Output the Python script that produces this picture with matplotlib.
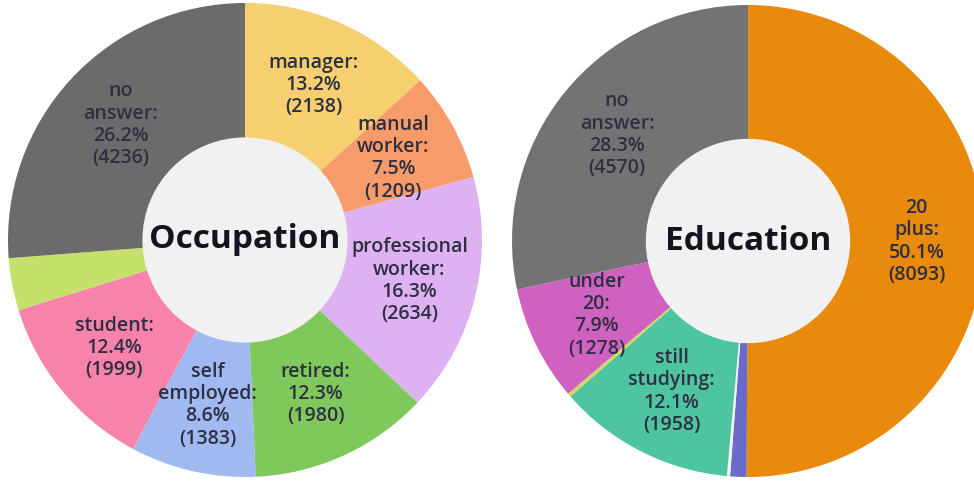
import numpy as np
import matplotlib
matplotlib.use("Agg")
import matplotlib.pyplot as plt

plt.rcParams["font.family"] = ["Open Sans", "DejaVu Sans"]

# occupation counts, clockwise from 12 o'clock
occ_labels = ["manager", "manual\nworker", "professional\nworker", "retired",
              "self\nemployed", "student", "", "no\nanswer"]
occ_counts = [2138, 1209, 2634, 1980, 1383, 1999, 575, 4236]
occ_colors = ["#F6CF70", "#F89B6B", "#DDB1F2", "#7FC95C", "#A1B9F1",
              "#F783AA", "#C6E06C", "#6B6B6B"]

# education counts, clockwise from 12 o'clock
edu_labels = ["20\nplus", "", "", "still\nstudying", "", "under\n20", "no\nanswer"]
edu_counts = [8093, 180, 35, 1958, 40, 1278, 4570]
edu_colors = ["#E98A0C", "#6A6AC9", "#F4F4F4", "#4FC4A1", "#D2D85C",
              "#CF62C0", "#737373"]

W, H = 974, 482
fig = plt.figure(figsize=(W / 100, H / 100), dpi=100)
fig.patch.set_facecolor("white")


def donut(cx, cy, r, labels, counts, colors, title):
    ax = fig.add_axes([(cx - r) / W, (H - cy - r) / H, 2 * r / W, 2 * r / H])
    hole = 0.43
    wedges, _ = ax.pie(counts, colors=colors, startangle=90, counterclock=False,
                       radius=1, wedgeprops=dict(width=1 - hole, linewidth=0))
    ax.set_xlim(-1, 1)
    ax.set_ylim(-1, 1)
    ax.axis("off")
    ax.add_patch(plt.Circle((0, 0), hole, color="#F1F1F1", zorder=3))
    total = sum(counts)
    for w, lab, n in zip(wedges, labels, counts):
        if not lab:
            continue
        mid = np.deg2rad((w.theta1 + w.theta2) / 2)
        rr = (1 + hole) / 2
        txt = f"{lab}:\n{100 * n / total:.1f}%\n({n})"
        ax.text(rr * np.cos(mid), rr * np.sin(mid), txt, ha="center", va="center",
                fontsize=14, fontweight="semibold", color="#2f2f42",
                linespacing=1.15, zorder=4)
    ax.text(0, 0, title, ha="center", va="center", fontsize=24,
            fontweight="bold", color="#141420", zorder=4)
    ax.set_aspect("equal")


donut(245, 240, 237, occ_labels, occ_counts, occ_colors, "Occupation")
donut(748, 241, 236, edu_labels, edu_counts, edu_colors, "Education")

fig.savefig("out.png", dpi=100)
